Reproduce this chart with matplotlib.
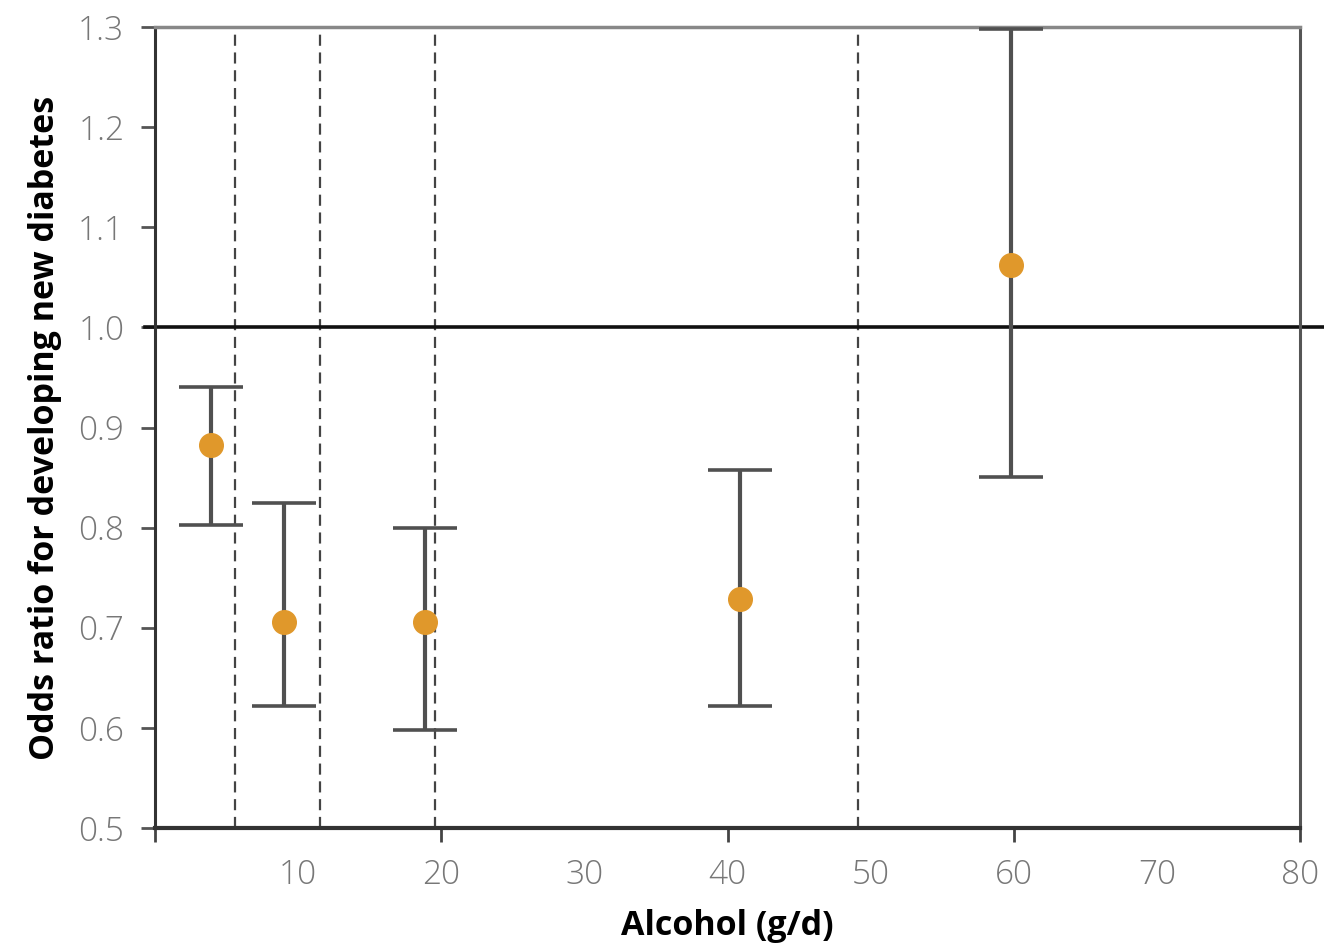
import matplotlib
matplotlib.use('Agg')
import matplotlib.pyplot as plt

# alcohol intake groups (g/d) and odds ratios with 95% CI
alcohol = [3.9, 9.0, 18.9, 40.9, 59.8]
odds = [0.883, 0.706, 0.706, 0.729, 1.062]
ci_low = [0.803, 0.622, 0.598, 0.622, 0.851]
ci_high = [0.940, 0.825, 0.800, 0.858, 1.298]
cutoffs = [5.6, 11.5, 19.6, 49.1]

xticks = [10, 20, 30, 40, 50, 60, 70, 80]
yticks = [0.5, 0.6, 0.7, 0.8, 0.9, 1.0, 1.1, 1.2, 1.3]

plt.rcParams['font.family'] = ['Open Sans', 'DejaVu Sans']

fig = plt.figure(figsize=(13.24, 9.48), dpi=100)
ax = fig.add_axes([0.117, 0.1266, 0.865, 0.8449])

for c in cutoffs:
    ax.axvline(c, color='#444444', lw=1.6, ls=(0, (5, 3)), zorder=1)

# reference line at OR = 1, runs past the right spine
ax.plot([-0.7, 81.7], [1.0, 1.0], color='#111111', lw=2.6, clip_on=False, zorder=2)

err = [[o - l for o, l in zip(odds, ci_low)], [h - o for o, h in zip(odds, ci_high)]]
ax.errorbar(alcohol, odds, yerr=err, fmt='none', ecolor='#505050',
            elinewidth=3, capsize=23, capthick=2.6, zorder=3)
ax.plot(alcohol, odds, 'o', color='#E0982B', ms=17, mec='#E0982B', zorder=4)

ax.set_xlim(0, 80)
ax.set_ylim(0.5, 1.3)

# labels every 10, tick marks only every 20
ax.xaxis.remove_overlapping_locs = False
ax.set_xticks(xticks)
ax.set_xticklabels([str(t) for t in xticks])
ax.tick_params(axis='x', which='major', length=0, pad=22, labelsize=24,
               labelcolor='#777777')
ax.set_xticks([0, 20, 40, 60, 80], minor=True)
ax.tick_params(axis='x', which='minor', direction='out', length=10, width=2,
               color='#444444')

ax.set_yticks(yticks)
ax.set_yticklabels(['%.1f' % t for t in yticks])
ax.tick_params(axis='y', direction='out', length=10, width=2, color='#555555',
               pad=12, labelsize=24, labelcolor='#777777')
for lab in ax.get_xticklabels() + ax.get_yticklabels():
    lab.set_fontweight('light')

ax.spines['left'].set_color('#333333')
ax.spines['left'].set_linewidth(2.2)
ax.spines['bottom'].set_color('#333333')
ax.spines['bottom'].set_linewidth(3)
ax.spines['top'].set_color('#888888')
ax.spines['top'].set_linewidth(2.5)
ax.spines['right'].set_color('#555555')
ax.spines['right'].set_linewidth(2.2)

ax.set_xlabel('Alcohol (g/d)', fontsize=24.5, fontweight='bold', labelpad=12)
ax.set_ylabel('Odds ratio for developing new diabetes', fontsize=24.5,
              fontweight='bold', labelpad=12)

fig.savefig('out.png', dpi=100)
